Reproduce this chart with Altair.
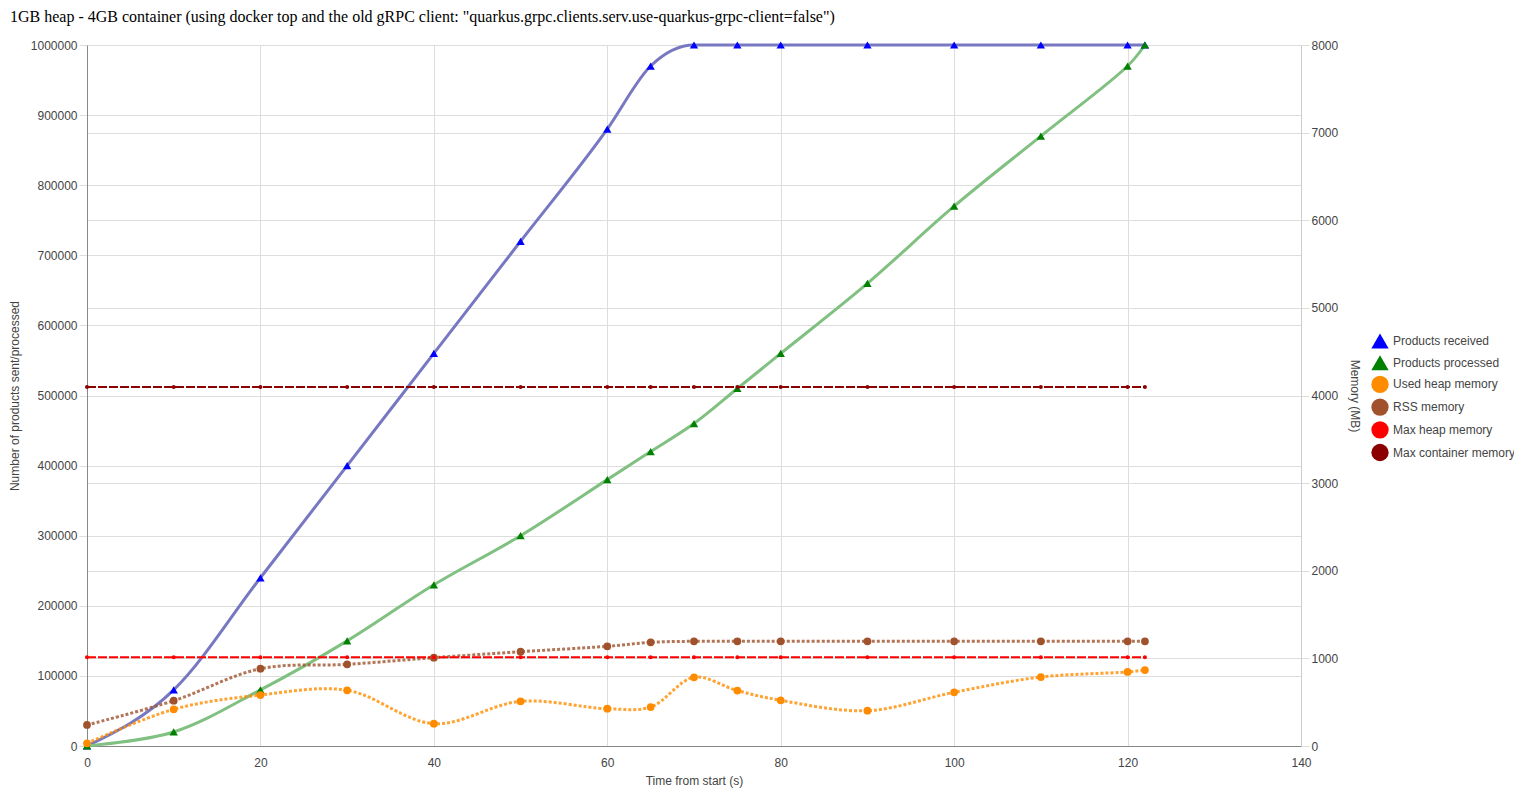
import altair as alt
import pandas as pd

# ---- data ----
t = [0, 10, 20, 30, 40, 50, 60, 65, 70, 75, 80, 90, 100, 110, 120, 122]
received = [0, 80000, 240000, 400000, 560000, 720000, 880000, 970000,
            1000000, 1000000, 1000000, 1000000, 1000000, 1000000, 1000000, 1000000]
processed = [0, 20000, 80000, 150000, 230000, 300000, 380000, 420000,
             460000, 510000, 560000, 660000, 770000, 870000, 970000, 1000000]
used_heap = [30, 419, 582, 636, 255, 510, 426, 445, 784, 632, 521, 403, 613, 787, 845, 867]
rss = [240, 517, 882, 932, 1008, 1076, 1138, 1183, 1195, 1195, 1195, 1195, 1195, 1195, 1195, 1195]
max_heap = [1012, 1012, 1012, 1012, 1012, 1012, 1012, 1012, 1012, 1012, 1012, 1012, 1012, 1012, 1012, 1012]
max_container = [4096, 4096, 4096, 4096, 4096, 4096, 4096, 4096, 4096, 4096, 4096, 4096, 4096, 4096, 4096, 4096]

series_names = ["Products received", "Products processed", "Used heap memory",
                "RSS memory", "Max heap memory", "Max container memory"]
marker_colors = ["#0000ff", "#008000", "#ff8c00", "#a0522d", "#ff0000", "#8b0000"]
marker_shapes = ["triangle-up", "triangle-up", "circle", "circle", "circle", "circle"]

title_text = '1GB heap - 4GB container (using docker top and the old gRPC client: "quarkus.grpc.clients.serv.use-quarkus-grpc-client=false")'

# ---- tables ----
def long(name, vals):
    return pd.DataFrame({"t": t, "value": vals, "series": name})

df_p = pd.concat([long(series_names[0], received), long(series_names[1], processed)])
df_m = pd.concat([long(series_names[2], used_heap), long(series_names[3], rss),
                  long(series_names[4], max_heap), long(series_names[5], max_container)])

FONT = "Liberation Sans"
GRID = "#dddddd"

x_enc = alt.X("t:Q", scale=alt.Scale(domain=[0, 140], nice=False),
              axis=alt.Axis(values=[0, 20, 40, 60, 80, 100, 120, 140], grid=True, gridColor=GRID,
                            ticks=False, labelPadding=11, domainColor="#888888", labelFlush=False,
                            format="d", title="Time from start (s)", titlePadding=7))

y_left = alt.Y("value:Q", scale=alt.Scale(domain=[0, 1000000], nice=False),
               axis=alt.Axis(values=list(range(0, 1000001, 100000)), grid=True, gridColor=GRID,
                             tickSize=8, tickColor=GRID, labelPadding=2, domainColor="#888888",
                             format="d", labelFlush=False,
                             title="Number of products sent/processed", titlePadding=9))

y_right = alt.Y("value:Q", scale=alt.Scale(domain=[0, 8000], nice=False),
                axis=alt.Axis(orient="right", values=list(range(0, 8001, 1000)), grid=True,
                              gridColor=GRID, tickSize=8, tickColor=GRID, labelPadding=2,
                              format="d", labelFlush=False,
                              domainColor="#cccccc", title="Memory (MB)", titlePadding=10))

color_enc = alt.Color("series:N", scale=alt.Scale(domain=series_names, range=marker_colors),
                      legend=alt.Legend(title=None, orient="none", legendX=1284, legendY=287,
                                        symbolSize=300, labelOffset=4, rowPadding=4.7, padding=0,
                                        labelFontSize=12, labelColor="#444444", labelFont=FONT,
                                        symbolStrokeWidth=0, symbolOpacity=1))
shape_enc = alt.Shape("series:N", scale=alt.Scale(domain=series_names, range=marker_shapes))


def line_layer(data, name, y, color, width, dash=None, opacity=1.0, interp="catmull-rom"):
    kw = dict(color=color, strokeWidth=width, opacity=opacity, interpolate=interp)
    if dash:
        kw["strokeDash"] = dash
    return alt.Chart(data).transform_filter(alt.datum.series == name).mark_line(**kw).encode(
        x=x_enc, y=y, order="t:Q")


def point_layer(data, names, y, size):
    return alt.Chart(data).transform_filter(
        alt.FieldOneOfPredicate(field="series", oneOf=names)
    ).mark_point(filled=True, opacity=1, strokeWidth=0, size=size).encode(
        x=x_enc, y=y, color=color_enc, shape=shape_enc)


products = alt.layer(
    line_layer(df_p, series_names[0], y_left, "#7878c2", 3, interp="monotone"),
    line_layer(df_p, series_names[1], y_left, "#80c080", 3),
    point_layer(df_p, series_names[0:2], y_left, 70),
)

memory = alt.layer(
    line_layer(df_m, series_names[2], y_right, "#ff8c00", 3, dash=[3, 2], opacity=0.8),
    line_layer(df_m, series_names[3], y_right, "#a0522d", 3, dash=[3, 2], opacity=0.8),
    line_layer(df_m, series_names[4], y_right, "#ff0000", 2, dash=[9, 2], interp="linear"),
    line_layer(df_m, series_names[5], y_right, "#8b0000", 2, dash=[9, 2], interp="linear"),
    point_layer(df_m, series_names[2:4], y_right, 60),
    point_layer(df_m, series_names[4:6], y_right, 16),
)

chart = alt.layer(products, memory).resolve_scale(y="independent").properties(
    width=1214, height=701,
    autosize=alt.AutoSizeParams(type="none"),
    padding={"left": 79, "top": 37, "right": 213, "bottom": 44},
    title=alt.TitleParams(text=title_text, anchor="start", frame="group", dx=-77, offset=14,
                          font="Liberation Serif", fontSize=16, fontWeight="normal", color="#000000"),
).configure_view(stroke=None).configure_axis(
    labelFont=FONT, labelFontSize=12, labelColor="#444444",
    titleFont=FONT, titleFontSize=12, titleColor="#444444", titleFontWeight="normal",
    domainWidth=1, gridWidth=1,
)

chart.save("out.html", embed_options={"renderer": "svg", "actions": False})
